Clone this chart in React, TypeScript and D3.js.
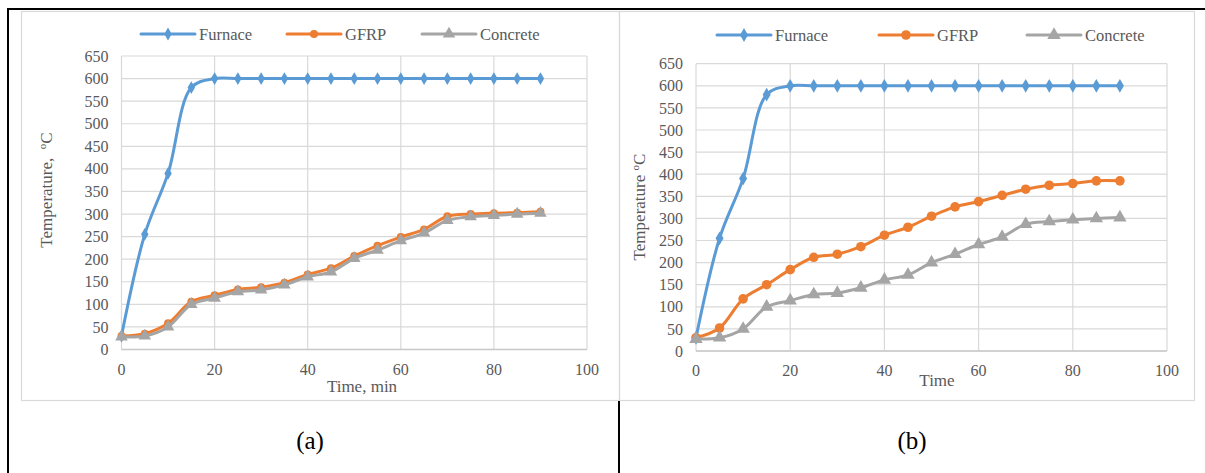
import React from "react";
import * as d3 from "d3";

// time axis (min)
const times = [0, 5, 10, 15, 20, 25, 30, 35, 40, 45, 50, 55, 60, 65, 70, 75, 80, 85, 90];

const furnace = [30, 255, 390, 580, 600, 600, 600, 600, 600, 600, 600, 600, 600, 600, 600, 600, 600, 600, 600];

// panel (a)
const gfrpA = [30, 35, 58, 106, 120, 133, 138, 148, 166, 180, 207, 230, 249, 266, 295, 300, 302, 303, 305];
const concreteA = [28, 30, 50, 100, 114, 128, 132, 143, 161, 172, 202, 220, 241, 258, 286, 294, 297, 300, 302];

// panel (b)
const gfrpB = [30, 52, 118, 150, 184, 212, 219, 236, 262, 280, 305, 326, 338, 352, 366, 375, 379, 385, 385];
const concreteB = [27, 30, 50, 100, 114, 128, 131, 143, 161, 172, 200, 219, 241, 258, 287, 293, 297, 300, 302];

const xTicks = [0, 20, 40, 60, 80, 100];
const yTicks = d3.range(0, 651, 50);
const legendNames = ["Furnace", "GFRP", "Concrete"];

const COLORS = ["#5B9BD5", "#ED7D31", "#A5A5A5"];
const FONT = "'Liberation Serif', 'Times New Roman', serif";
const TXT = "#595959";
const GRID = "#d9d9d9";

type Panel = {
  left: number;
  right: number;
  top: number;
  bottom: number;
  series: number[][];
  xTitle: string;
  yTitle: string;
  yTitleComma: boolean;
  yTitleX: number;
  yTitleY: number;
  xTitleX: number;
  xTitleY: number;
  legendX: number[];
  legendY: number;
  dotR: number;
  symScale: number;
};

function Marker({ kind, x, y, color, r, s }: { kind: number; x: number; y: number; color: string; r: number; s: number }) {
  if (kind === 1) return <circle cx={x} cy={y} r={r} fill={color} />;
  const sym = kind === 0 ? d3.symbolDiamond : d3.symbolTriangle;
  const size = (kind === 0 ? 48 : 68) * s;
  return <path d={d3.symbol(sym, size)() || ""} transform={`translate(${x},${y})`} fill={color} />;
}

function Chart(p: Panel) {
  const x = d3.scaleLinear().domain([0, 100]).range([p.left, p.right]);
  const y = d3.scaleLinear().domain([0, 650]).range([p.bottom, p.top]);
  const line = d3
    .line<number>()
    .x((_, i) => x(times[i]))
    .y((d) => y(d))
    .curve(d3.curveCatmullRom.alpha(0.5));

  return (
    <g fontFamily={FONT} fill={TXT}>
      {/* gridlines */}
      {yTicks.map((t) => (
        <line key={"h" + t} x1={p.left} x2={p.right} y1={y(t)} y2={y(t)} stroke={GRID} strokeWidth={1.2} />
      ))}
      {xTicks.map((t) => (
        <line key={"v" + t} x1={x(t)} x2={x(t)} y1={p.top} y2={p.bottom} stroke={GRID} strokeWidth={1.2} />
      ))}
      <line x1={p.left} x2={p.right} y1={p.bottom} y2={p.bottom} stroke="#c8c8c8" strokeWidth={1.3} />

      {/* tick labels */}
      {yTicks.map((t) => (
        <text key={"yl" + t} x={p.left - 13} y={y(t)} dy="0.35em" textAnchor="end" fontSize={16}>
          {t}
        </text>
      ))}
      {xTicks.map((t) => (
        <text key={"xl" + t} x={x(t)} y={p.bottom + 25} textAnchor="middle" fontSize={16}>
          {t}
        </text>
      ))}

      {/* axis titles */}
      <text x={p.xTitleX} y={p.xTitleY} textAnchor="middle" fontSize={17}>
        {p.xTitle}
      </text>
      <text
        transform={`translate(${p.yTitleX},${p.yTitleY}) rotate(-90)`}
        textAnchor="middle"
        fontSize={17}
      >
        {p.yTitle}
        {p.yTitleComma ? ",\u00a0\u00a0" : "\u00a0"}
        <tspan fontSize={11} dy={-6}>o</tspan>
        <tspan dy={6}>C</tspan>
      </text>

      {/* series */}
      {p.series.map((s, k) => (
        <g key={"s" + k}>
          <path d={line(s) || ""} fill="none" stroke={COLORS[k]} strokeWidth={3} strokeLinejoin="round" strokeLinecap="round" />
          {s.map((v, i) => (
            <Marker key={i} kind={k} x={x(times[i])} y={y(v)} color={COLORS[k]} r={p.dotR} s={p.symScale} />
          ))}
        </g>
      ))}

      {/* legend */}
      {legendNames.map((n, k) => (
        <g key={"lg" + n}>
          <line x1={p.legendX[k]} x2={p.legendX[k] + 54} y1={p.legendY} y2={p.legendY} stroke={COLORS[k]} strokeWidth={3} strokeLinecap="round" />
          <Marker kind={k} x={p.legendX[k] + 27} y={p.legendY} color={COLORS[k]} r={p.dotR} s={p.symScale} />
          <text x={p.legendX[k] + 58} y={p.legendY} dy="0.35em" fontSize={16.5}>
            {n}
          </text>
        </g>
      ))}
    </g>
  );
}

export default function App() {
  return (
    <svg width={1205} height={473} style={{ position: "absolute", left: 0, top: 0, background: "#fff" }}>
      {/* chart frames */}
      <rect x={21.5} y={11.5} width={598} height={389} fill="none" stroke={GRID} strokeWidth={1.2} />
      <rect x={619.5} y={11.5} width={575} height={389} fill="none" stroke={GRID} strokeWidth={1.2} />

      <Chart
        left={121.5}
        right={587}
        top={56}
        bottom={349.5}
        series={[furnace, gfrpA, concreteA]}
        xTitle="Time, min"
        yTitle="Temperature"
        yTitleComma={true}
        yTitleX={52}
        yTitleY={190}
        xTitleX={362}
        xTitleY={392}
        legendX={[141, 287, 422]}
        legendY={34}
        dotR={4}
        symScale={1}
      />
      <Chart
        left={696}
        right={1167}
        top={63.7}
        bottom={351}
        series={[furnace, gfrpB, concreteB]}
        xTitle="Time"
        yTitle="Temperature"
        yTitleComma={false}
        yTitleX={645}
        yTitleY={207}
        xTitleX={937}
        xTitleY={386}
        legendX={[717, 879, 1027]}
        legendY={35}
        dotR={4.8}
        symScale={1.15}
      />

      {/* table rules */}
      <line x1={7} x2={1205} y1={9} y2={9} stroke="#000" strokeWidth={2} />
      <line x1={8} x2={8} y1={8} y2={473} stroke="#000" strokeWidth={2} />
      <line x1={619} x2={619} y1={401} y2={473} stroke="#000" strokeWidth={2} />

      <text x={310} y={449} textAnchor="middle" fontSize={25} fontFamily={FONT} fill="#000">
        (a)
      </text>
      <text x={912} y={449} textAnchor="middle" fontSize={25} fontFamily={FONT} fill="#000">
        (b)
      </text>
    </svg>
  );
}
